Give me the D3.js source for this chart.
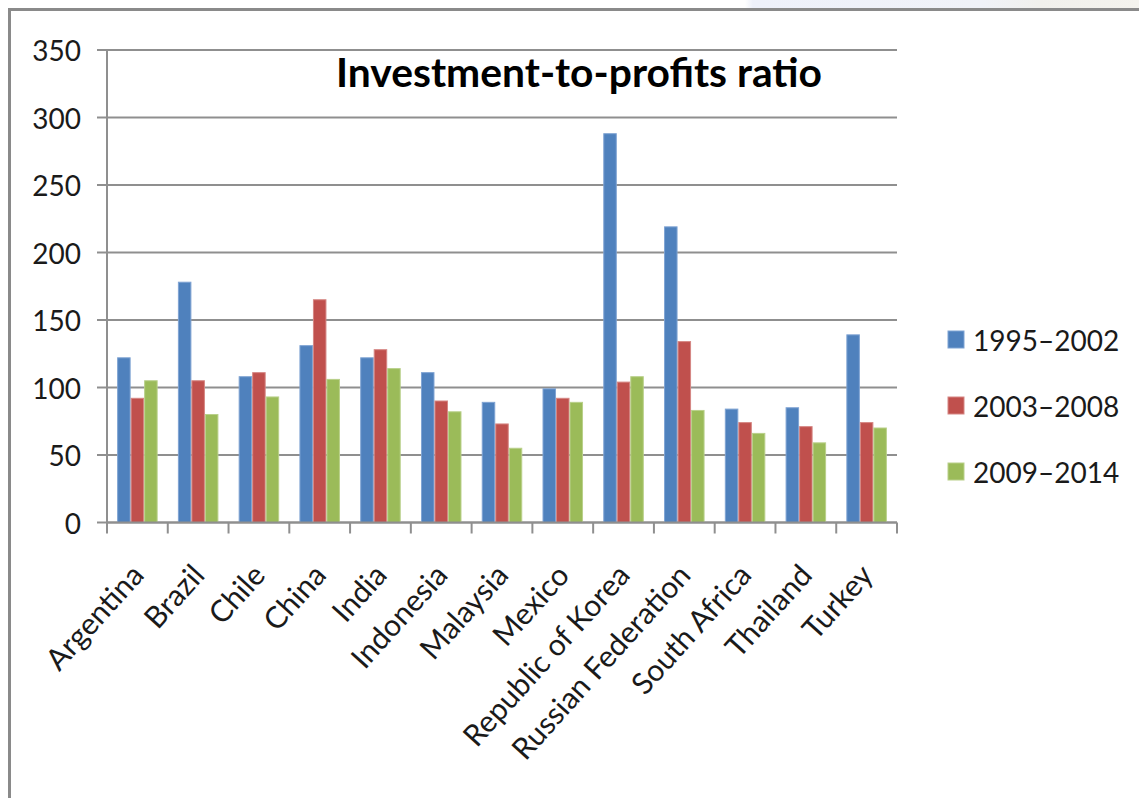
<!DOCTYPE html>
<html>
<head>
<meta charset="utf-8">
<script src="https://cdn.jsdelivr.net/npm/d3@7"></script>
<style>
  html, body { margin: 0; padding: 0; background: #fff; }
  svg { display: block; }
  text { font-family: Lato, "Open Sans", sans-serif; fill: #1a1a1a; }
</style>
</head>
<body>
<svg id="chart" width="1139" height="798"></svg>
<script>
// Investment-to-profits ratio by country and period
const countries = ["Argentina", "Brazil", "Chile", "China", "India", "Indonesia", "Malaysia",
  "Mexico", "Republic of Korea", "Russian Federation", "South Africa", "Thailand", "Turkey"];
const periods = ["1995\u20132002", "2003\u20132008", "2009\u20132014"];
const values1995 = [122, 178, 108, 131, 122, 111, 89, 99, 288, 219, 84, 85, 139];
const values2003 = [92, 105, 111, 165, 128, 90, 73, 92, 104, 134, 74, 71, 74];
const values2009 = [105, 80, 93, 106, 114, 82, 55, 89, 108, 83, 66, 59, 70];
const yTicks = [0, 50, 100, 150, 200, 250, 300, 350];
const colors = ["#4F81BD", "#C0504D", "#9BBB59"];
const edgeColors = ["#7FA3D3", "#D58683", "#B9D08A"];

const series = [values1995, values2003, values2009];

const svg = d3.select("#chart");

// Window strip above the chart frame
const defs = svg.append("defs");
const grad = defs.append("linearGradient").attr("id", "strip").attr("x1", "0").attr("x2", "1");
grad.append("stop").attr("offset", "0").attr("stop-color", "#ffffff");
grad.append("stop").attr("offset", "0.02").attr("stop-color", "#eef1fa");
grad.append("stop").attr("offset", "0.6").attr("stop-color", "#f0f2f8");
grad.append("stop").attr("offset", "0.75").attr("stop-color", "#f1f0ec");
grad.append("stop").attr("offset", "1").attr("stop-color", "#f4f3ee");
svg.append("rect").attr("x", 745).attr("y", 0).attr("width", 394).attr("height", 8)
  .attr("fill", "url(#strip)");

// Chart frame (top and left edges)
svg.append("path")
  .attr("d", "M9.5,798 L9.5,9.5 L1139,9.5")
  .attr("fill", "none").attr("stroke", "#8a8a8a").attr("stroke-width", 3);

const plot = { left: 107, right: 897, top: 50, bottom: 522.5 };

const x = d3.scaleBand().domain(countries).range([plot.left, plot.right]).padding(0);
const bw = x.bandwidth();
const xs = d3.scaleBand().domain(d3.range(periods.length)).range([0, bw * 3 / 4.5]);
const groupOffset = bw * 0.75 / 4.5;

const y = d3.scaleLinear().domain([0, 350]).range([plot.bottom, plot.top]);

// Horizontal gridlines with outside ticks
svg.append("g").selectAll("line").data(yTicks).join("line")
  .attr("x1", plot.left - 10).attr("x2", plot.right)
  .attr("y1", d => y(d)).attr("y2", d => y(d))
  .attr("stroke", "#8f8f8f").attr("stroke-width", 2);

// Y axis line
svg.append("line")
  .attr("x1", plot.left).attr("x2", plot.left)
  .attr("y1", plot.top).attr("y2", plot.bottom)
  .attr("stroke", "#8f8f8f").attr("stroke-width", 2);

// Y tick labels
svg.append("g").selectAll("text").data(yTicks).join("text")
  .attr("x", 81).attr("y", d => y(d))
  .attr("text-anchor", "end").attr("dominant-baseline", "central")
  .style("font-size", "28px")
  .text(d => d);

// Bars
const groups = svg.append("g").selectAll("g").data(countries).join("g")
  .attr("transform", c => `translate(${x(c) + groupOffset},0)`);
groups.selectAll("rect")
  .data((c, i) => series.map((s, k) => ({ k, v: s[i] })))
  .join("rect")
  .attr("x", d => xs(d.k) + 0.5)
  .attr("width", xs.bandwidth() - 1)
  .attr("y", d => y(d.v))
  .attr("height", d => y(0) - y(d.v))
  .attr("fill", d => colors[d.k])
  .attr("stroke", d => edgeColors[d.k]).attr("stroke-width", 1);

// X axis line and category ticks
svg.append("line")
  .attr("x1", plot.left).attr("x2", plot.right)
  .attr("y1", plot.bottom).attr("y2", plot.bottom)
  .attr("stroke", "#8f8f8f").attr("stroke-width", 2);
const boundaries = countries.map(c => x(c)).concat([plot.right]);
svg.append("g").selectAll("line").data(boundaries).join("line")
  .attr("x1", d => d).attr("x2", d => d)
  .attr("y1", plot.bottom).attr("y2", plot.bottom + 11)
  .attr("stroke", "#8f8f8f").attr("stroke-width", 2);

// Rotated category labels
svg.append("g").selectAll("text").data(countries).join("text")
  .attr("transform", c => `translate(${x(c) + bw / 2 + 8},${plot.bottom + 54}) rotate(-48)`)
  .attr("text-anchor", "end")
  .style("font-size", "30px")
  .text(c => c);

// Title
svg.append("text")
  .attr("x", 336).attr("y", 87)
  .attr("textLength", 486).attr("lengthAdjust", "spacingAndGlyphs")
  .style("font-size", "40px").style("font-weight", "bold").style("fill", "#000")
  .text("Investment-to-profits ratio");

// Legend
const legend = svg.append("g").selectAll("g").data(periods).join("g")
  .attr("transform", (d, i) => `translate(948,${340 + i * 66})`);
legend.append("rect")
  .attr("x", 0).attr("y", -9).attr("width", 16).attr("height", 17)
  .attr("fill", (d, i) => colors[i]).attr("stroke", (d, i) => edgeColors[i]).attr("stroke-width", 1);
legend.append("text")
  .attr("x", 25).attr("y", 0).attr("dominant-baseline", "central")
  .style("font-size", "28px")
  .text(d => d);
</script>
</body>
</html>
